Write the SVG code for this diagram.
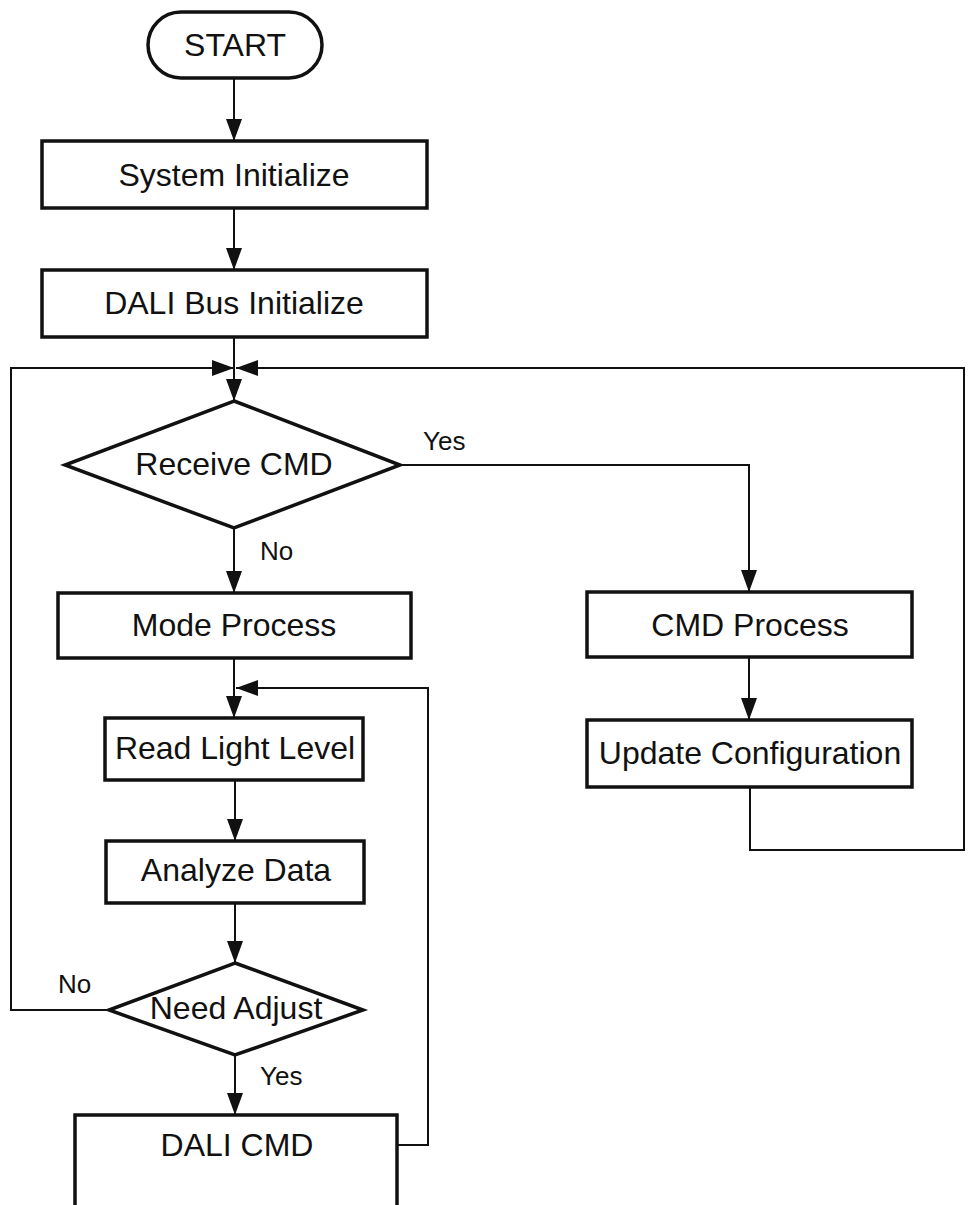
<svg xmlns="http://www.w3.org/2000/svg" width="968" height="1205" viewBox="0 0 968 1205">
<defs>
<style>
.box{fill:#fff;stroke:#111;stroke-width:3.5}
.t{font-family:"Liberation Sans",Arial,sans-serif;font-size:32px;fill:#111;text-anchor:middle}
.lbl{font-family:"Liberation Sans",Arial,sans-serif;font-size:26px;fill:#111}
.c{fill:none;stroke:#111;stroke-width:2}
</style>
<marker id="ah" markerUnits="userSpaceOnUse" markerWidth="22" markerHeight="16" refX="22" refY="8" orient="auto">
<path d="M0,0 L22,8 L0,16 z" fill="#111"/>
</marker>
</defs>
<rect width="968" height="1205" fill="#fff"/>
<g id="connectors">
<path class="c" d="M234,78 V141" marker-end="url(#ah)"/>
<path class="c" d="M234,208 V270" marker-end="url(#ah)"/>
<path class="c" d="M234,337 V401" marker-end="url(#ah)"/>
<path class="c" d="M109,1010 H11 V368 H234" marker-end="url(#ah)"/>
<path class="c" d="M750,787 V850 H964 V368 H236" marker-end="url(#ah)"/>
<path class="c" d="M400,465 H749 V592" marker-end="url(#ah)"/>
<path class="c" d="M749,657 V720" marker-end="url(#ah)"/>
<path class="c" d="M234,528 V593" marker-end="url(#ah)"/>
<path class="c" d="M234,658 V718" marker-end="url(#ah)"/>
<path class="c" d="M397,1145 H428 V688 H236" marker-end="url(#ah)"/>
<path class="c" d="M235,780 V841" marker-end="url(#ah)"/>
<path class="c" d="M235,903 V963" marker-end="url(#ah)"/>
<path class="c" d="M235,1055 V1115" marker-end="url(#ah)"/>
<text class="lbl" x="423" y="450">Yes</text>
<text class="lbl" x="260" y="560">No</text>
<text class="lbl" x="58" y="993">No</text>
<text class="lbl" x="260" y="1085">Yes</text>
</g>
<g id="start">
<rect class="box" x="148" y="12" width="174" height="66" rx="33" ry="33"/>
<text class="t" x="235" y="56">START</text>
</g>
<g id="system-init">
<rect class="box" x="42" y="141" width="385" height="67"/>
<text class="t" x="234" y="186">System Initialize</text>
</g>
<g id="dali-bus-init">
<rect class="box" x="42" y="270" width="385" height="67"/>
<text class="t" x="234" y="314">DALI Bus Initialize</text>
</g>
<g id="receive-cmd">
<polygon class="box" points="234,401 400,465 234,528 65,465"/>
<text class="t" x="234" y="475">Receive CMD</text>
</g>
<g id="mode-process">
<rect class="box" x="58" y="593" width="353" height="65"/>
<text class="t" x="234" y="636">Mode Process</text>
</g>
<g id="cmd-process">
<rect class="box" x="587" y="592" width="325" height="65"/>
<text class="t" x="750" y="636">CMD Process</text>
</g>
<g id="update-config">
<rect class="box" x="587" y="720" width="325" height="67"/>
<text class="t" x="750" y="764">Update Configuration</text>
</g>
<g id="read-light">
<rect class="box" x="105" y="718" width="258" height="62"/>
<text class="t" x="235" y="759">Read Light Level</text>
</g>
<g id="analyze-data">
<rect class="box" x="106" y="841" width="258" height="62"/>
<text class="t" x="236" y="881">Analyze Data</text>
</g>
<g id="need-adjust">
<polygon class="box" points="235,963 363,1010 235,1055 109,1010"/>
<text class="t" x="236" y="1019">Need Adjust</text>
</g>
<g id="dali-cmd">
<rect class="box" x="75" y="1115" width="322" height="110"/>
<text class="t" x="237" y="1156">DALI CMD</text>
</g>
</svg>
